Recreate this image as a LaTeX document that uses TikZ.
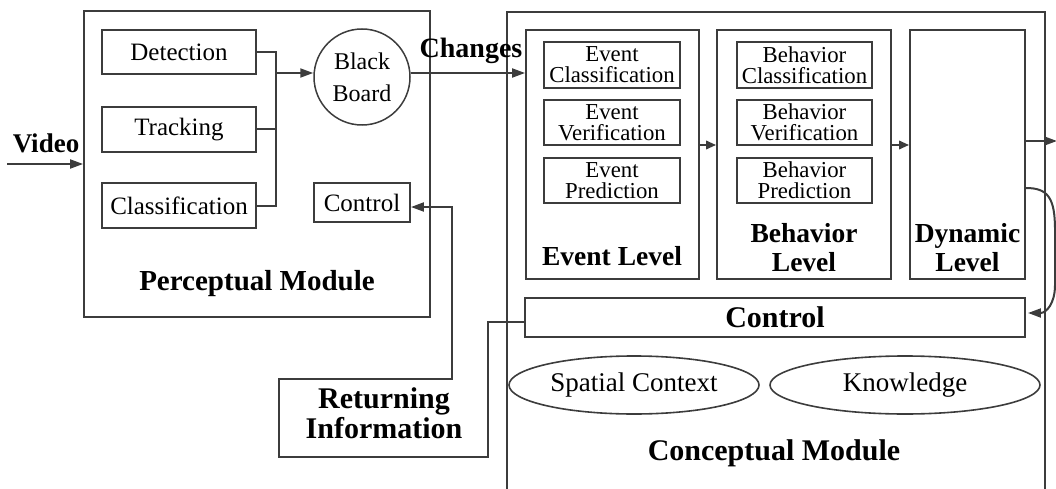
\documentclass[tikz,border=0pt]{standalone}
\usepackage{fontspec}
\setmainfont{Liberation Serif}
\usetikzlibrary{arrows.meta,shapes.geometric}
\definecolor{lncol}{HTML}{3C3C3C}
\begin{document}
\begin{tikzpicture}[x=1pt,y=-1pt,
  box/.style={draw=lncol, line width=1.9pt, inner sep=0pt, anchor=center},
  lnk/.style={draw=lncol, line width=2pt},
  arr/.style={draw=lncol, line width=2pt, -{Triangle[length=13pt,width=9pt]}},
  sarr/.style={draw=lncol, line width=2pt, -{Triangle[length=10pt,width=8.5pt]}},
  fA/.style={font=\fontsize{25}{28}\selectfont},
  fS/.style={font=\fontsize{22.8}{21}\selectfont, align=center},
  fB/.style={font=\bfseries\fontsize{27.5}{29}\selectfont, align=center},
  fC/.style={font=\bfseries\fontsize{30}{30}\selectfont, align=center},
  fE/.style={font=\fontsize{27}{30}\selectfont}]
\useasboundingbox (0,0) rectangle (1056,489);
\clip (0,0) rectangle (1056,489);
% Perceptual module
\node[box, minimum width=346pt, minimum height=306pt] (pm) at (257,164) {};
\node[fB, font=\bfseries\fontsize{29}{30}\selectfont] (pmt) at (257,284) {Perceptual Module};
\node[box, fA, minimum width=154pt, minimum height=44pt] (det) at (179,52) {Detection};
\node[box, fA, minimum width=154pt, minimum height=45pt] (trk) at (179,129.5) {Tracking};
\node[box, fA, minimum width=154pt, minimum height=45pt] (cls) at (179,205.5) {Classification};
\node[box, circle, line width=1.5pt, minimum size=96pt, align=center, font=\fontsize{24}{32}\selectfont] (bb) at (362,77) {Black\\Board};
\node[box, fA, minimum width=96pt, minimum height=39pt] (ctl) at (362,202.5) {Control};
\coordinate (bus) at (276,73);
\draw[lnk] (det.east) -| (bus);
\draw[lnk] (trk.east) -| (bus);
\draw[lnk] (cls.east) -| (bus);
\draw[arr] (bus) -- (bb.west |- bus);
% Video
\coordinate (vin) at (7,164);
\draw[arr] (vin) -- (pm.west |- vin);
\node[fB, font=\bfseries\fontsize{27}{29}\selectfont] (vid) at (46,143) {Video};
% Conceptual module
\node[box, minimum width=538pt, minimum height=530pt, anchor=north west] (cm) at (506,11) {};
\node[fC] (cmt) at (774,453) {Conceptual Module};
\node[box, minimum width=173pt, minimum height=249pt] (ev) at (612.5,154.5) {};
\node[box, minimum width=174pt, minimum height=249pt] (bl) at (804,154.5) {};
\node[box, minimum width=115pt, minimum height=249pt] (dl) at (967.5,154.5) {};
\node[box, fS, minimum width=136pt, minimum height=46pt] (ec) at (612,65) {Event\\Classification};
\node[box, fS, minimum width=136pt, minimum height=45pt] (evf) at (612,122.5) {Event\\Verification};
\node[box, fS, minimum width=136pt, minimum height=45pt] (ep) at (612,180.5) {Event\\Prediction};
\node[box, fS, minimum width=135pt, minimum height=46pt] (bc) at (804.5,65) {Behavior\\Classification};
\node[box, fS, minimum width=135pt, minimum height=45pt] (bvf) at (804.5,122.5) {Behavior\\Verification};
\node[box, fS, minimum width=135pt, minimum height=45pt] (bp) at (804.5,180.5) {Behavior\\Prediction};
\node[fB] (evt) at (612,256) {Event Level};
\node[fB] (blt) at (804,248) {Behavior\\Level};
\node[fB] (dlt) at (967.5,248) {Dynamic\\Level};
\node[box, fC, minimum width=500pt, minimum height=39pt] (cb) at (775,317.5) {Control};
\node[box, ellipse, line width=1.6pt, fE, minimum width=250pt, minimum height=58pt] (sc) at (634,385) {Spatial Context};
\node[box, ellipse, line width=1.6pt, fE, minimum width=270pt, minimum height=58pt] (kn) at (905,385) {Knowledge};
% changes
\draw[arr] (bb.east |- bus) -- (ev.west |- bus);
\node[fB, font=\bfseries\fontsize{28}{29}\selectfont] (chg) at (471,51) {Changes};
% level arrows
\coordinate (y145) at (0,145);
\draw[sarr] (ev.east |- y145) -- (bl.west |- y145);
\draw[sarr] (bl.east |- y145) -- (dl.west |- y145);
\coordinate (out) at (1057,141);
\draw[arr] (dl.east |- out) -- (out);
% feedback curve
\coordinate (y188) at (0,188);
\coordinate (y313) at (0,313);
\draw[arr] (dl.east |- y188) .. controls (1048,188) and (1055,198) .. (1055,230)
  -- (1055,285) .. controls (1055,304) and (1046,313) .. ([xshift=2pt]cb.east |- y313);
% returning information
\coordinate (y322) at (0,322);
\coordinate (y207) at (0,207);
\draw[arr] (cb.west |- y322) -- (488,322) -- (488,457) -- (279,457) -- (279,379)
  -- (452,379) -- (452,207) -- (ctl.east |- y207);
\node[fC] (ret) at (384,413) {Returning\\Information};
\end{tikzpicture}
\end{document}
